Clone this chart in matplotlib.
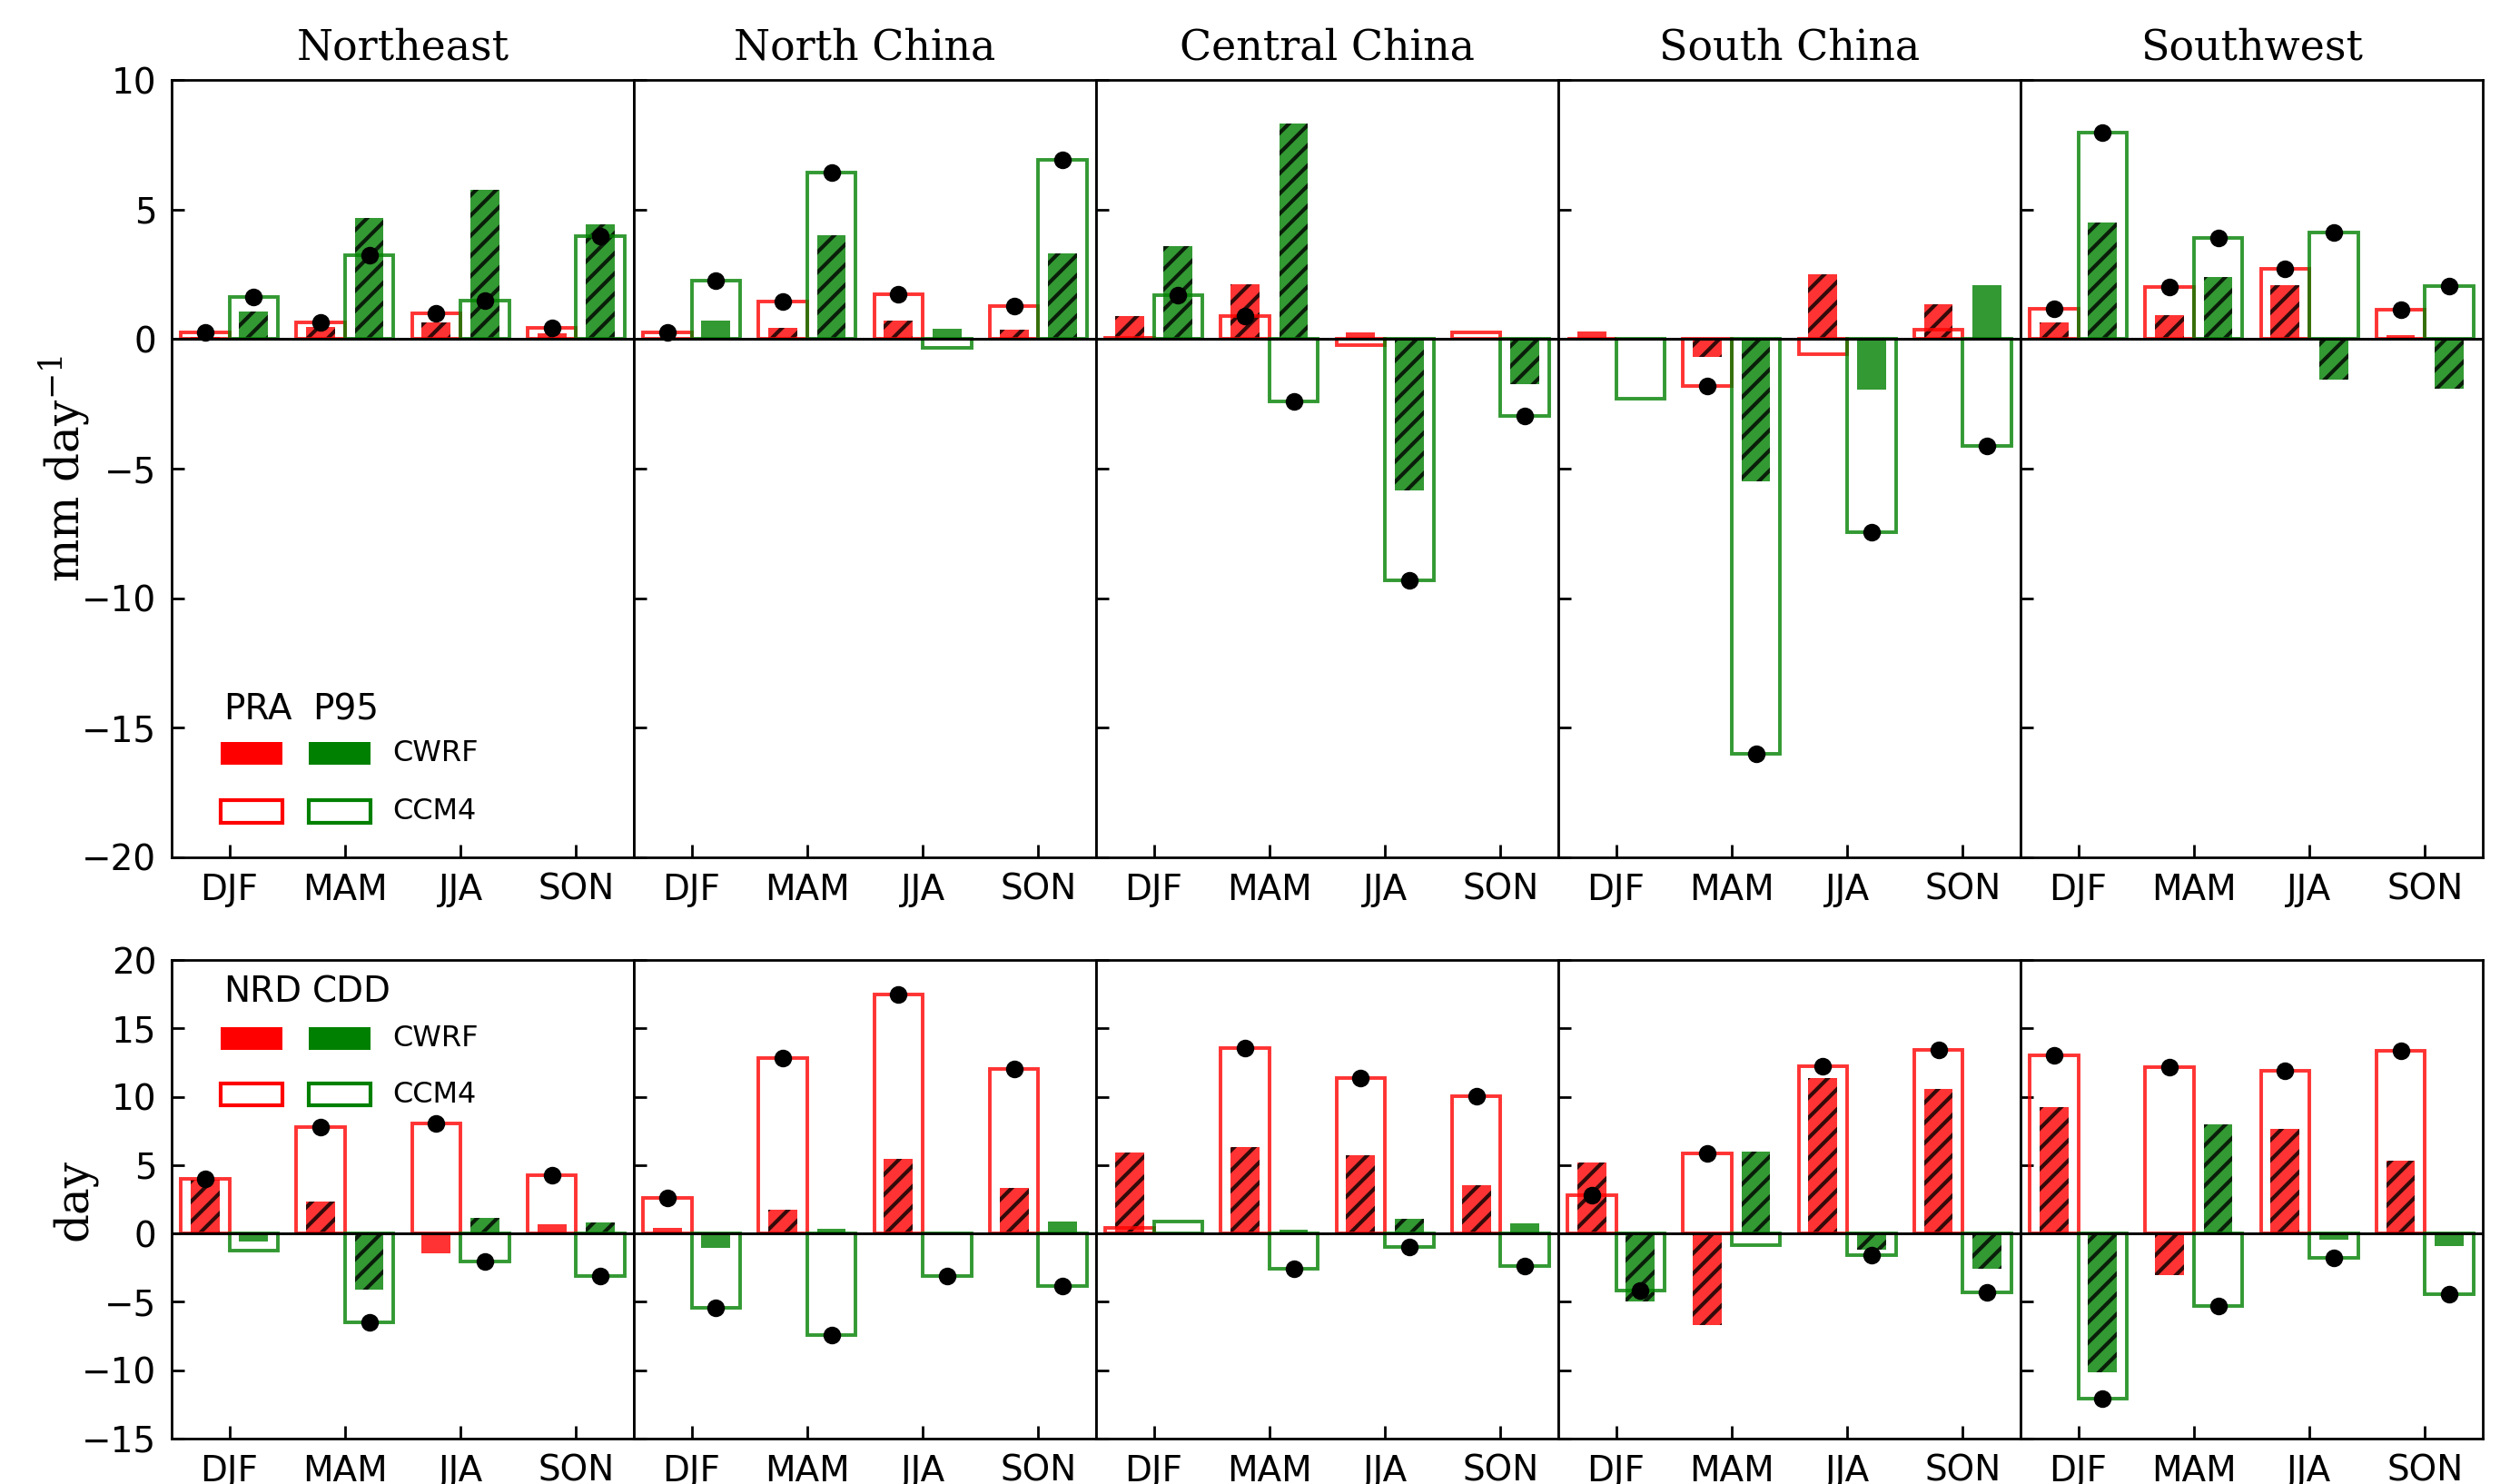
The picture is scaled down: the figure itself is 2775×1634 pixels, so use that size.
import matplotlib
matplotlib.use("Agg")
import matplotlib.pyplot as plt
from matplotlib.patches import Rectangle
import numpy as np

regions = ["Northeast", "North China", "Central China", "South China", "Southwest"]
seasons = ["DJF", "MAM", "JJA", "SON"]

# ---- top row: PRA (red) / P95 (green), mm day-1 ----
pra_cwrf = [[0.10, 0.47, 0.66, 0.23], [0.05, 0.43, 0.73, 0.36], [0.88, 2.12, 0.26, 0.02],
            [0.29, -0.70, 2.50, 1.33], [0.65, 0.92, 2.09, 0.15]]
pra_cwrf_sig = [[1, 1, 1, 1], [0, 1, 1, 1], [1, 1, 0, 0], [0, 1, 1, 1], [1, 1, 1, 0]]
pra_ccm4 = [[0.25, 0.66, 0.99, 0.42], [0.27, 1.45, 1.72, 1.28], [0.05, 0.89, -0.23, 0.26],
            [0.00, -1.81, -0.58, 0.37], [1.17, 2.00, 2.70, 1.13]]
pra_ccm4_sig = [[1, 1, 1, 1], [1, 1, 1, 1], [0, 1, 0, 0], [0, 1, 0, 0], [1, 1, 1, 1]]

p95_cwrf = [[1.05, 4.67, 5.76, 4.43], [0.73, 4.00, 0.40, 3.31], [3.58, 8.32, -5.83, -1.75],
            [0.00, -5.48, -1.96, 2.09], [4.51, 2.41, -1.55, -1.90]]
p95_cwrf_sig = [[1, 1, 1, 1], [0, 1, 0, 1], [1, 1, 1, 1], [0, 1, 0, 0], [1, 1, 1, 1]]
p95_ccm4 = [[1.62, 3.25, 1.49, 3.96], [2.26, 6.41, -0.35, 6.92], [1.69, -2.42, -9.30, -2.97],
            [-2.31, -16.0, -7.46, -4.14], [7.98, 3.89, 4.13, 2.04]]
p95_ccm4_sig = [[1, 1, 1, 1], [1, 1, 0, 1], [1, 1, 1, 1], [0, 1, 1, 1], [1, 1, 1, 1]]

# ---- bottom row: NRD (red) / CDD (green), day ----
nrd_cwrf = [[3.90, 2.36, -1.47, 0.66], [0.40, 1.77, 5.48, 3.36], [5.91, 6.31, 5.74, 3.52],
            [5.20, -6.67, 11.40, 10.57], [9.22, -3.07, 7.66, 5.32]]
nrd_cwrf_sig = [[1, 1, 0, 0], [0, 1, 1, 1], [1, 1, 1, 1], [1, 1, 1, 1], [1, 1, 1, 1]]
nrd_ccm4 = [[4.02, 7.75, 8.08, 4.25], [2.60, 12.86, 17.45, 12.00], [0.40, 13.57, 11.40, 10.05],
            [2.79, 5.86, 12.25, 13.43], [13.05, 12.15, 11.87, 13.33]]
nrd_ccm4_sig = [[1, 1, 1, 1], [1, 1, 1, 1], [0, 1, 1, 1], [1, 1, 1, 1], [1, 1, 1, 1]]

cdd_cwrf = [[-0.60, -4.14, 1.13, 0.83], [-1.02, 0.33, -0.10, 0.90], [0.00, 0.28, 1.04, 0.76],
            [-4.96, 6.00, -1.18, -2.60], [-10.17, 7.99, -0.47, -0.90]]
cdd_cwrf_sig = [[0, 1, 1, 1], [0, 0, 0, 0], [0, 0, 1, 0], [1, 1, 1, 1], [1, 1, 0, 0]]
cdd_ccm4 = [[-1.25, -6.50, -2.08, -3.12], [-5.44, -7.45, -3.12, -3.83], [0.90, -2.55, -1.00, -2.36],
            [-4.20, -0.83, -1.60, -4.33], [-12.06, -5.32, -1.77, -4.42]]
cdd_ccm4_sig = [[0, 1, 1, 1], [1, 1, 1, 1], [0, 1, 1, 1], [1, 0, 1, 1], [1, 1, 1, 1]]

plt.rcParams["hatch.linewidth"] = 1.5
plt.rcParams["axes.linewidth"] = 1.0
plt.rcParams["mathtext.fontset"] = "dejavuserif"

SERIF = "DejaVu Serif"


def draw_pair(ax, off, color, cwrf, cwrf_sig, ccm4, ccm4_sig):
    x = np.arange(len(seasons)) + off
    bars = ax.bar(x, cwrf, 0.25, color=color, alpha=0.8, edgecolor="k",
                  linewidth=0, zorder=2)
    for b, s in zip(bars, cwrf_sig):
        if s:
            b.set_hatch("///")
    ax.bar(x, ccm4, 0.42, facecolor="none", edgecolor=color, alpha=0.8,
           linewidth=1.4, zorder=2.5)
    dots = [v if s else np.nan for v, s in zip(ccm4, ccm4_sig)]
    ax.plot(x, dots, "o", color="k", ms=6, zorder=4)


def draw_key(ax, head1, head2, yh, y_fill, y_hollow, h):
    kw = dict(transform=ax.transAxes, zorder=5)
    ax.text(0.113, yh, head1, fontsize=14, va="center", ha="left", **kw)
    ax.text(0.305, yh, head2, fontsize=14, va="center", ha="left", **kw)
    for x0, c in [(0.106, "red"), (0.297, "green")]:
        ax.add_patch(Rectangle((x0, y_fill), 0.134, h, facecolor=c, edgecolor="none",
                               clip_on=False, **kw))
        ax.add_patch(Rectangle((x0, y_hollow), 0.134, h, facecolor="none", edgecolor=c,
                               linewidth=1.5, clip_on=False, **kw))
    ax.text(0.477, y_fill + h / 2, "CWRF", fontsize=11.5, va="center", ha="left", **kw)
    ax.text(0.477, y_hollow + h / 2, "CCM4", fontsize=11.5, va="center", ha="left", **kw)


fig = plt.figure(figsize=(13.875, 8.17), dpi=200)
left, right = 0.0681, 0.9852
pw = (right - left) / 5
rows = [
    dict(bottom=0.4223, top=0.9461, ylim=(-20, 10), yticks=np.arange(-20, 11, 5),
         red=(pra_cwrf, pra_cwrf_sig, pra_ccm4, pra_ccm4_sig),
         grn=(p95_cwrf, p95_cwrf_sig, p95_ccm4, p95_ccm4_sig),
         ylabel="mm day$^{-1}$", labx=-0.172),
    dict(bottom=0.0306, top=0.3531, ylim=(-15, 20), yticks=np.arange(-15, 21, 5),
         red=(nrd_cwrf, nrd_cwrf_sig, nrd_ccm4, nrd_ccm4_sig),
         grn=(cdd_cwrf, cdd_cwrf_sig, cdd_ccm4, cdd_ccm4_sig),
         ylabel="day", labx=-0.163),
]

for r, row in enumerate(rows):
    for i, reg in enumerate(regions):
        ax = fig.add_axes([left + i * pw, row["bottom"], pw, row["top"] - row["bottom"]])
        rc, rcs, rm, rms = row["red"]
        gc, gcs, gm, gms = row["grn"]
        draw_pair(ax, -0.21, "red", rc[i], rcs[i], rm[i], rms[i])
        draw_pair(ax, 0.21, "green", gc[i], gcs[i], gm[i], gms[i])
        ax.axhline(0, color="k", linewidth=1.1, zorder=3)
        ax.set_xlim(-0.5, 3.5)
        ax.set_ylim(*row["ylim"])
        ax.set_yticks(row["yticks"])
        ax.set_xticks(np.arange(len(seasons)))
        ax.set_xticklabels(seasons)
        ax.tick_params(direction="in", length=5, width=1, labelsize=14, pad=6,
                       top=False, right=False)
        if i == 0:
            ax.set_ylabel(row["ylabel"], fontsize=18, family=SERIF)
            ax.yaxis.set_label_coords(row["labx"], 0.5)
        else:
            ax.tick_params(labelleft=False)
        if r == 0:
            ax.set_title(reg, fontsize=16.5, family=SERIF, pad=8)
        if i == 0 and r == 0:
            draw_key(ax, "PRA", "P95", 0.19, 0.119, 0.0444, 0.0295)
        if i == 0 and r == 1:
            draw_key(ax, "NRD", "CDD", 0.933, 0.812, 0.6955, 0.047)

fig.savefig("out.png", dpi=200)
